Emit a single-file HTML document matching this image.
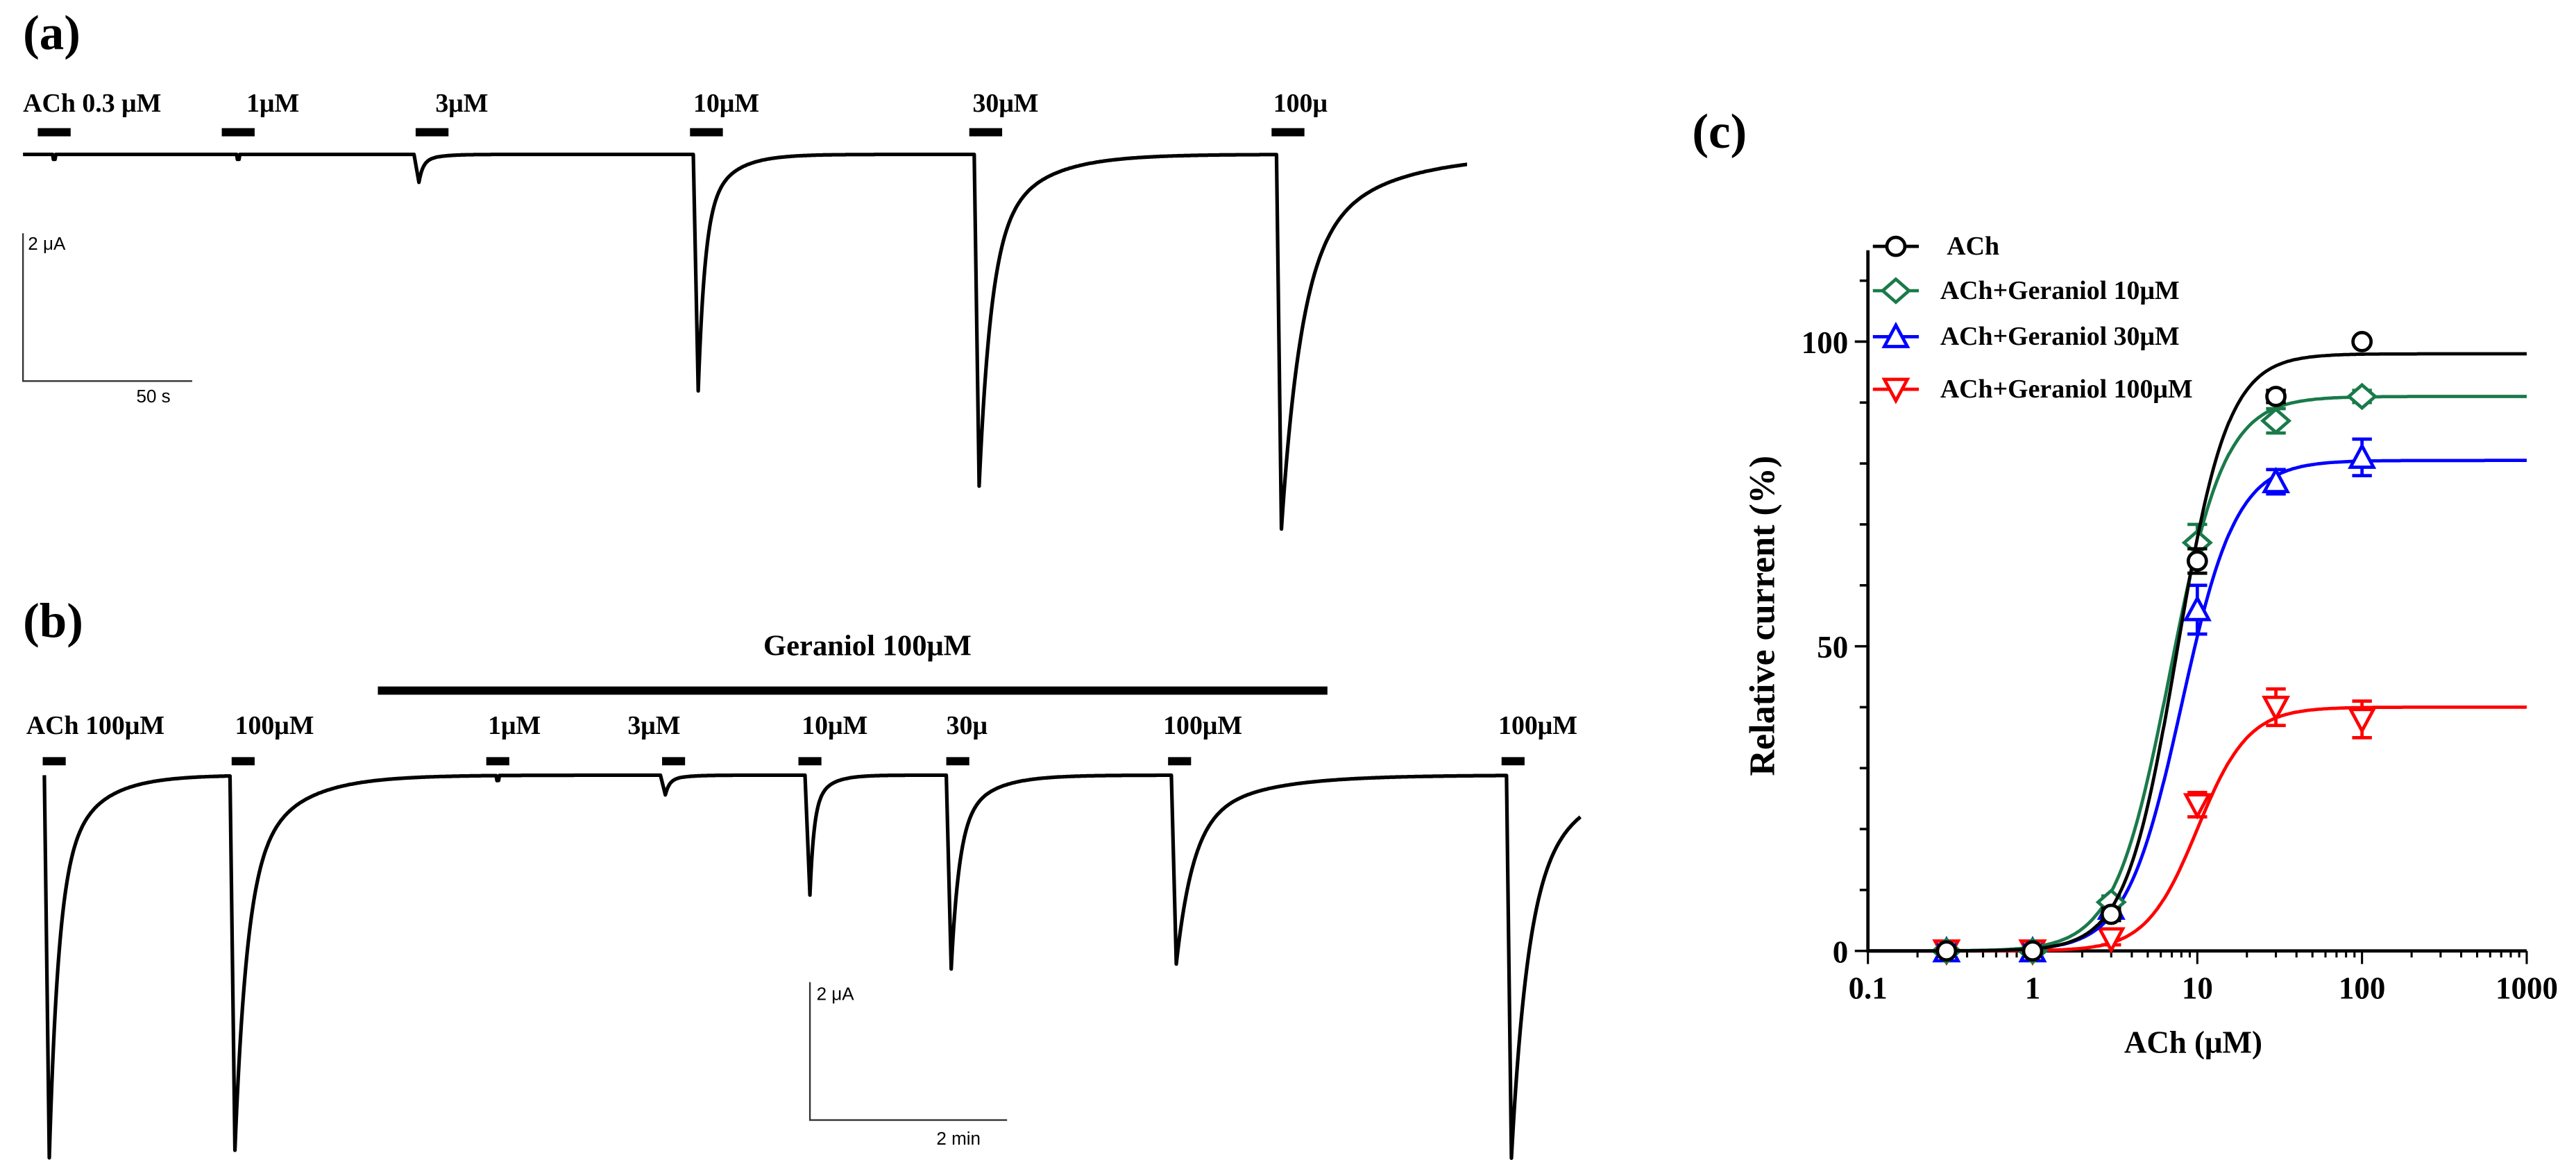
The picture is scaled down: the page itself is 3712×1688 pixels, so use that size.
<!DOCTYPE html>
<html><head><meta charset="utf-8"><style>
html,body{margin:0;padding:0;background:#fff}
svg{display:block}
.lbl{font-family:"Liberation Serif",serif;font-weight:bold;font-size:16px;fill:#000}
.pl{font-family:"Liberation Serif",serif;font-weight:bold;font-size:30px;fill:#000}
.sc{font-family:"Liberation Sans",sans-serif;font-size:11px;fill:#000}
.ax{font-family:"Liberation Serif",serif;font-weight:bold;font-size:19px;fill:#000}
.lg{font-family:"Liberation Serif",serif;font-weight:bold;font-size:16px;fill:#000}
</style></head><body>
<svg id="fig" width="3712" height="1688" viewBox="0 0 1568 713">
<g id="pa"></g>
<g id="pb"></g>
<g id="pc"></g>
</svg>
<script>
// Panel (a) data
const aLabels=["ACh 0.3 μM","1μM","3μM","10μM","30μM","100μ"];
const aLabelX=[14,150,265,422,592,775];
const aBarX=[33,145,263,430,600,784];
const aEventX=[33,145,252,422,593,777];
const aPeak=[0,0,17,144,202,228];
const aTau=[5,5,6,10,18,30];
// Panel (b) data
const bLabels=["ACh 100μM","100μM","1μM","3μM","10μM","30μ","100μM","100μM"];
const bLabelX=[16,143,297,382,488,576,708,912];
const bBarX=[33,148,303,410,493,583,718,921];
const bEventX=[27,140,303,402,490,576,713,917];
const bPeak=[233,228,0,12,73,118,115,233];
const bTau=[14,18,5,6,6,12,25,25];
// Panel (c) data
const conc=[0.3,1,3,10,30,100];
const sNames=["ACh","ACh+Geraniol 10μM","ACh+Geraniol 30μM","ACh+Geraniol 100μM"];
const sColors=["#000000","#1a7a4a","#0000ff","#ff0000"];
const sVals=[[0,0,6,64,91,100],[0,0,8,67,87,91],[0,0,7,56,77,81],[0,0,2,24,40,38]];
const sErr=[[0,0,1,2,1,0],[0,0,1,3,2,1],[1,1,2,4,2,3],[1,1,1,2,3,3]];
const sTop=[98,91,80.5,40];
const sEC50=[7.5,6.8,8,10];
const sHill=[2.8,2.6,2.6,2.8];
const yTicks=[0,50,100];
const xTicks=[0.1,1,10,100,1000];

const NS="http://www.w3.org/2000/svg";
function mk(p,t,a){const e=document.createElementNS(NS,t);for(const k in a)e.setAttribute(k,a[k]);p.appendChild(e);return e;}

function trace(g,x0,x1,base,evX,peak,tau,name){
  let d="";
  for(let x=x0;x<=x1;x+=0.5){
    let y=base;
    for(let i=0;i<evX.length;i++){
      const t=x-evX[i];
      if(peak[i]<=0){ if(Math.abs(t)<0.6) y+=3; continue;}
      if(t>=0&&t<3) y+=peak[i]*t/3;
      else if(t>=3){const u=t-3;y+=peak[i]*(0.72*Math.exp(-u/(tau[i]*0.4))+0.28*Math.exp(-u/(tau[i]*1.6)));}
    }
    d+=(d?"L":"M")+x.toFixed(1)+","+y.toFixed(1);
  }
  const p=mk(g,"path",{d:d,fill:"none",stroke:"#000","stroke-width":2.2,"stroke-linejoin":"round"});
  
  
}

// Panel a
(function(){
  const g=document.getElementById('pa');
  const t=mk(g,"text",{x:14,y:30,class:"pl"});t.textContent="(a)";
  
  aLabels.forEach((s,i)=>{const e=mk(g,"text",{x:aLabelX[i],y:68,class:"lbl"});e.textContent=s;
    
    const r=mk(g,"rect",{x:aBarX[i]-10,y:78,width:20,height:5,fill:"#000"});
    });
  trace(g,14,893,94,aEventX,aPeak,aTau,'current-trace-a');
  mk(g,"path",{d:"M14,142V232H117",fill:"none",stroke:"#333","stroke-width":1});
  let e=mk(g,"text",{x:17,y:152,class:"sc"});e.textContent="2 μA";
  e=mk(g,"text",{x:83,y:245,class:"sc"});e.textContent="50 s";
})();

// Panel b
(function(){
  const g=document.getElementById('pb');
  let t=mk(g,"text",{x:14,y:388,class:"pl"});t.textContent="(b)";
  
  t=mk(g,"text",{x:528,y:399,class:"lbl","text-anchor":"middle",style:"font-size:18px"});t.textContent="Geraniol 100μM";
  
  const gb=mk(g,"rect",{x:230,y:418,width:578,height:5,fill:"#000"});
  
  bLabels.forEach((s,i)=>{const e=mk(g,"text",{x:bLabelX[i],y:447,class:"lbl"});e.textContent=s;
    
    const r=mk(g,"rect",{x:bBarX[i]-7,y:461,width:14,height:5,fill:"#000"});
    });
  trace(g,27,962,472,bEventX,bPeak,bTau,'current-trace-b');
  mk(g,"path",{d:"M493,598V682H613",fill:"none",stroke:"#333","stroke-width":1});
  let e=mk(g,"text",{x:497,y:609,class:"sc"});e.textContent="2 μA";
  e=mk(g,"text",{x:570,y:697,class:"sc"});e.textContent="2 min";
})();

// Panel c
(function(){
  const g=document.getElementById('pc');
  const X0=1137,X1=1538,Y0=579,Y100=208;
  const sx=v=>X0+(Math.log10(v)+1)/4*(X1-X0);
  const sy=v=>Y0+(Y100-Y0)*v/100;
  let t=mk(g,"text",{x:1030,y:90,class:"pl"});t.textContent="(c)";
  
  mk(g,"path",{d:`M${X0},${sy(115)}V${Y0}H${X1}`,fill:"none",stroke:"#000","stroke-width":2});
  for(let v=0;v<=110;v+=10){const l=(v%50==0)?8:5;mk(g,"line",{x1:X0-l,x2:X0,y1:sy(v),y2:sy(v),stroke:"#000","stroke-width":1.5});}
  yTicks.forEach(v=>{const e=mk(g,"text",{x:X0-12,y:sy(v)+7,class:"ax","text-anchor":"end"});e.textContent=v;
    });
  for(let dcd=-1;dcd<3;dcd++)for(let m=1;m<10;m++){const v=m*Math.pow(10,dcd);mk(g,"line",{x1:sx(v),x2:sx(v),y1:Y0,y2:Y0+(m==1?8:4),stroke:"#000","stroke-width":1.3});}
  mk(g,"line",{x1:X1,x2:X1,y1:Y0,y2:Y0+8,stroke:"#000","stroke-width":1.3});
  xTicks.forEach(v=>{const e=mk(g,"text",{x:sx(v),y:608,class:"ax","text-anchor":"middle"});e.textContent=v;
    });
  let e=mk(g,"text",{x:1335,y:641,class:"ax","text-anchor":"middle"});e.textContent="ACh (μM)";
  
  e=mk(g,"text",{x:0,y:0,class:"ax","text-anchor":"middle",style:"font-size:22px",transform:`translate(1080,${sy(55)}) rotate(-90)`});e.textContent="Relative current (%)";
  
  function marker(p,i,x,y){
    const c=sColors[i],a={fill:"none",stroke:c,"stroke-width":2};let m;
    if(i==0)m=mk(p,"circle",Object.assign({cx:x,cy:y,r:5.5},a));
    else if(i==1)m=mk(p,"polygon",Object.assign({points:`${x},${y-7} ${x+8},${y} ${x},${y+7} ${x-8},${y}`},a));
    else if(i==2)m=mk(p,"polygon",Object.assign({points:`${x},${y-7} ${x+7},${y+6} ${x-7},${y+6}`},a));
    else m=mk(p,"polygon",Object.assign({points:`${x},${y+7} ${x+7},${y-6} ${x-7},${y-6}`},a));
    return m;
  }
  for(let i=sVals.length-1;i>=0;i--){
    let d="";
    for(let lx=-1;lx<=3;lx+=0.01){const c=Math.pow(10,lx);const v=sTop[i]/(1+Math.pow(sEC50[i]/c,sHill[i]));d+=(d?"L":"M")+sx(c).toFixed(1)+","+sy(v).toFixed(1);}
    const p=mk(g,"path",{d:d,fill:"none",stroke:sColors[i],"stroke-width":2});
    
    conc.forEach((c,j)=>{
      const x=sx(c),y=sy(sVals[i][j]),e2=sErr[i][j];
      if(e2>0){const ey1=sy(sVals[i][j]+e2),ey2=sy(sVals[i][j]-e2);
        mk(g,"path",{d:`M${x},${ey1}V${ey2}M${x-6},${ey1}H${x+6}M${x-6},${ey2}H${x+6}`,stroke:sColors[i],"stroke-width":2,fill:"none"});}
      const m=marker(g,i,x,y);m.setAttribute('fill','#fff');
      
    });
  }
  const ly=[150,177,205,237];
  sNames.forEach((s,i)=>{
    const lg=mk(g,"g",{});
    mk(lg,"line",{x1:1140,x2:1168,y1:ly[i],y2:ly[i],stroke:sColors[i],"stroke-width":2});
    marker(lg,i,1154,ly[i]).setAttribute('fill','#fff');
    const e=mk(lg,"text",{x:i==0?1185:1181,y:ly[i]+5,class:"lg"});e.textContent=s;
  });
})();
</script>
</body></html>
